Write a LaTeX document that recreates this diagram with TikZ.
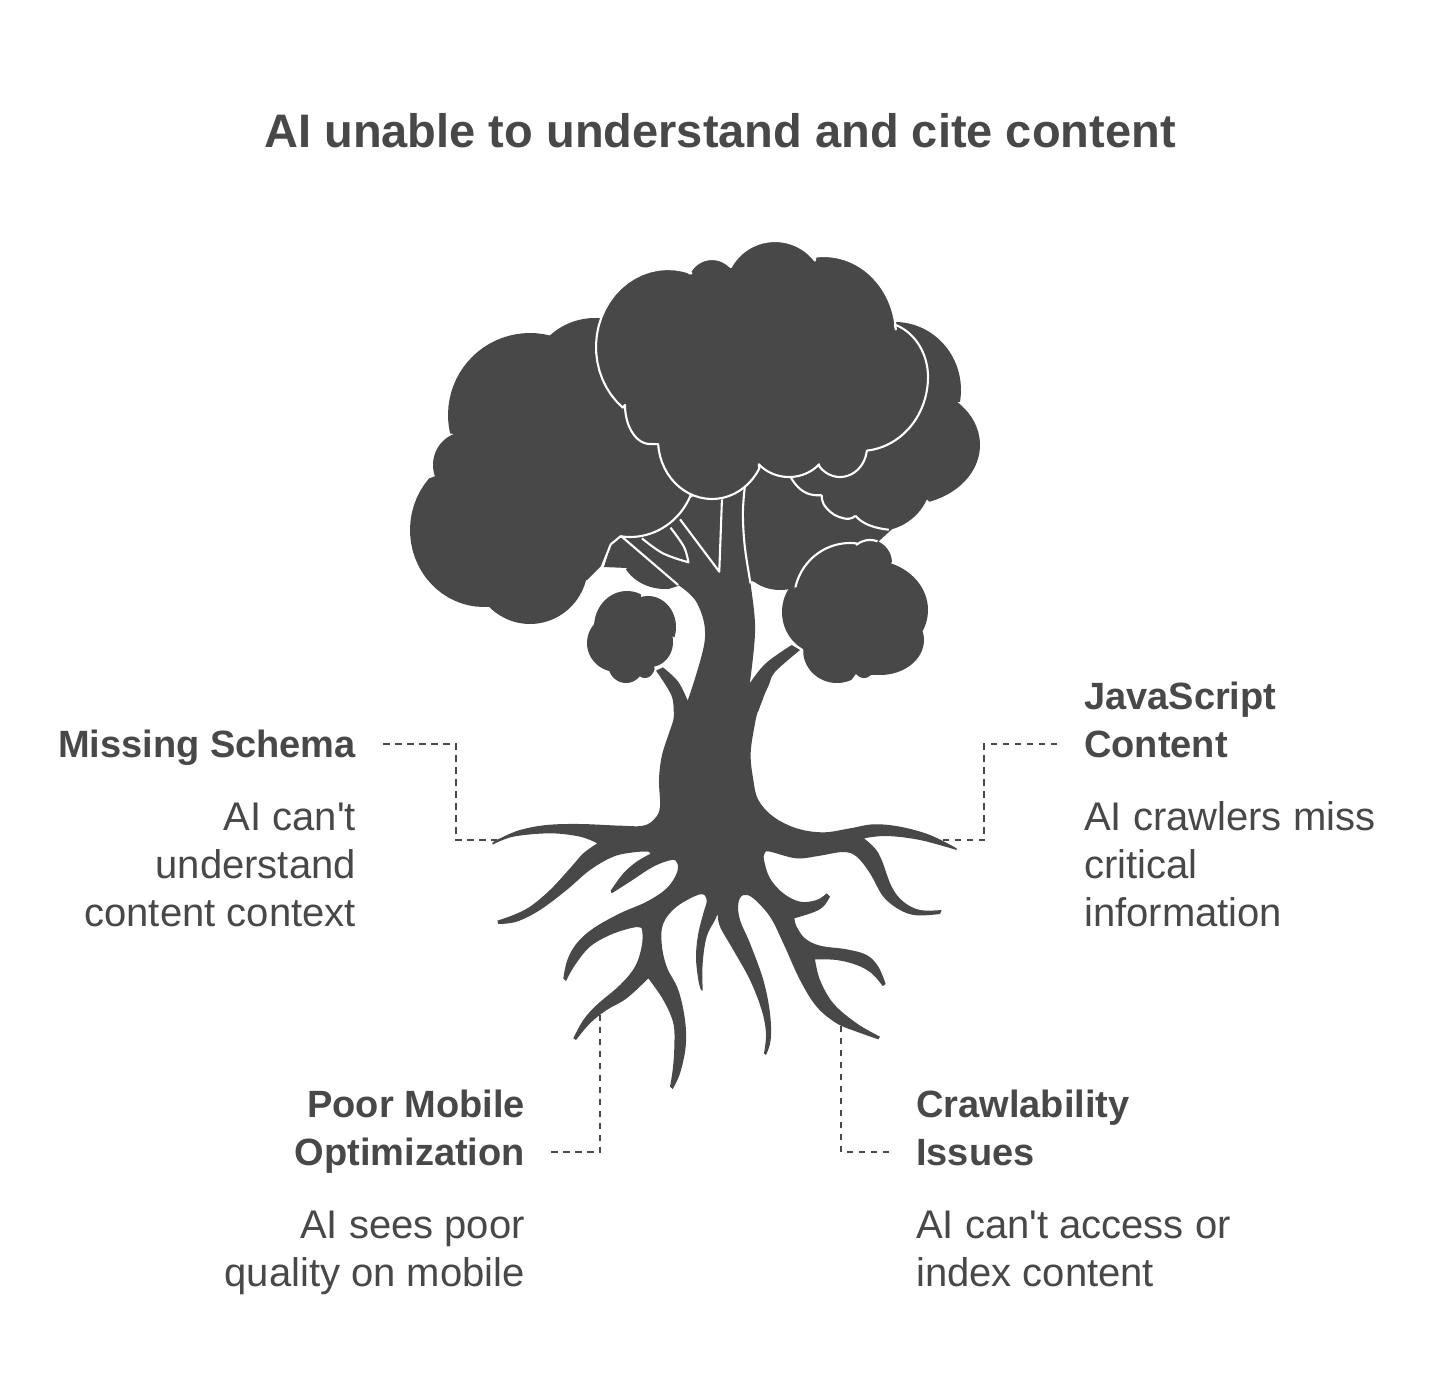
\documentclass[tikz,border=0pt]{standalone}
\usepackage{fontspec}
\newfontfamily\basefont{Liberation Sans}
\definecolor{ink}{HTML}{484848}
\newcommand{\lb}{\rule[-10pt]{0pt}{48pt}}
\tikzset{
  titletext/.style={font=\basefont\fontsize{38pt}{48pt}\selectfont\bfseries,text=ink,inner sep=0pt},
  bodytext/.style={font=\basefont\fontsize{40pt}{48pt}\selectfont,text=ink,inner sep=0pt},
  conn/.style={draw=ink,line width=1.6pt,dash pattern=on 6.5pt off 5.5pt},
  tree/.style={fill=ink},
  seam/.style={draw=white,line width=2.1pt,line join=round},
  z1/.style={shift={(400,230)},x=0.381pt,y=-0.33333pt},
  z2/.style={shift={(480,680)},x=0.33333pt,y=-0.33333pt},
  sm/.style={smooth,tension=0.6},
  rd/.style={smooth,tension=1},
  every plot/.style={samples=25}
}
\begin{document}
\begin{tikzpicture}[x=1pt,y=-1pt]
\useasboundingbox (0,0) rectangle (1440,1392);
\fill[white] (0,0) rectangle (1440,1392);

\node[titletext] (head) at (720,131) {\fontsize{47pt}{56pt}\selectfont AI unable to understand and cite content};

\node[titletext,anchor=east,align=right] (ms) at (356,743) {\lb Missing Schema};
\node[bodytext,anchor=east,align=right] (msb) at (356,864) {\lb AI can't\\\lb understand\\\lb content context};
\node[titletext,anchor=west,align=left] (js) at (1084,719) {\lb JavaScript\\\lb Content};
\node[bodytext,anchor=west,align=left] (jsb) at (1084,864) {\lb AI crawlers miss\\\lb critical\\\lb information};
\node[titletext,anchor=east,align=right] (pm) at (525,1127) {\lb Poor Mobile\\\lb Optimization};
\node[bodytext,anchor=east,align=right] (pmb) at (525,1248) {\lb AI sees poor\\\lb quality on mobile};
\node[titletext,anchor=west,align=left] (cr) at (916,1127) {\lb Crawlability\\\lb Issues};
\node[bodytext,anchor=west,align=left] (crb) at (916,1248) {\lb AI can't access or\\\lb index content};

\coordinate (msroot) at (497,840);
\coordinate (jsroot) at (943,840);
\coordinate (pmroot) at (600,1012);
\coordinate (crroot) at (841,1025);
\draw[conn] ([shift={(27pt,-1pt)}]ms.east) -- (456,744) -- (456,840) -- (msroot);
\draw[conn] ([shift={(-27pt,-25pt)}]js.west) -- (984,744) -- (984,840) -- (jsroot);
\draw[conn] ([shift={(26pt,-25pt)}]pm.east) -- (600,1152) -- (pmroot);
\draw[conn] ([shift={(-27pt,-25pt)}]cr.west) -- (841,1152) -- (crroot);

% back canopy, right and centre
\fill[tree] (800,330)
 -- plot[domain=270:370] ({895+66*cos(\x)},{390+68*sin(\x)})
 -- plot[domain=-46:71] ({905+75*cos(\x)},{445+60*sin(\x)})
 -- plot[domain=25:75] ({878+54*cos(\x)},{476+55*sin(\x)})
 -- (878,542) -- (795,587)
 -- plot[domain=55:130] ({780+40*cos(\x)},{555+35*sin(\x)})
 -- (748,580) -- (735,487) -- cycle;
% back canopy, lower left lobes
\fill[tree] (690,530) -- (621,536) -- (611,544) -- (604,567)
 -- (627,568)
 -- plot[domain=150:85] ({665+45*cos(\x)},{550+39*sin(\x)})
 -- (678,586) -- (700,560) -- cycle;
% left canopy
\fill[tree] (587,580)
 -- plot[domain=15:136] ({530+58*cos(\x)},{565+59*sin(\x)})
 -- plot[domain=85:222] ({484+74*cos(\x)},{530+77*sin(\x)})
 -- plot[domain=160:250] ({465+32*cos(\x)},{465+33*sin(\x)})
 -- plot[domain=167:284] ({530+82*cos(\x)},{415+82*sin(\x)})
 -- plot[domain=227:275] ({595+67*cos(\x)},{385+67*sin(\x)})
 -- (691,495)
 -- plot[domain=22:98] ({630+66*cos(\x)},{468+69*sin(\x)})
 -- (611,544) -- (602,565) -- cycle;
% small left canopy
\fill[tree] (594,627)
 -- plot[domain=180:295] ({627+33*cos(\x)},{627+36*sin(\x)})
 -- plot[domain=255:380] ({648+28*cos(\x)},{627+31*sin(\x)})
 -- plot[domain=-14:81] ({650+23*cos(\x)},{642+25*sin(\x)})
 -- plot[domain=15:130] ({645+10*cos(\x)},{665+13*sin(\x)})
 -- plot[domain=35:160] ({626+18*cos(\x)},{664+19*sin(\x)})
 -- plot[domain=103:225] ({617+30*cos(\x)},{643+29*sin(\x)})
 -- cycle;
% small right canopy
\fill[tree] (795,589)
 -- plot[domain=193:277] ({850+56*cos(\x)},{600+57*sin(\x)})
 -- plot[domain=233:357] ({870+22*cos(\x)},{563+23*sin(\x)})
 -- plot[domain=-69:27] ({870+58*cos(\x)},{610+50*sin(\x)})
 -- plot[domain=-15:95] ({880+44*cos(\x)},{640+35*sin(\x)})
 -- plot[domain=60:125] ({864+14*cos(\x)},{655+23*sin(\x)})
 -- plot[domain=65:170] ({837+34*cos(\x)},{650+33*sin(\x)})
 -- plot[domain=118:222] ({822+40*cos(\x)},{612+42*sin(\x)})
 -- cycle;
% seams of the small right canopy
\draw[seam] plot[domain=193:277] ({850+56*cos(\x)},{600+57*sin(\x)})
 -- plot[domain=233:290] ({870+22*cos(\x)},{563+23*sin(\x)});

\begin{scope}[z1]
% upper trunk and its side branches
\fill[tree] (580,918) -- (730,1065)
 -- plot[sm] coordinates {(730,1065) (780,1120) (800,1230) (755,1412)}
 -- plot[sm] coordinates {(755,1412) (730,1355) (690,1312)}
 -- (672,1322)
 -- plot[sm] coordinates {(672,1322) (712,1395) (718,1445)}
 -- (940,1445)
 -- plot[sm] coordinates {(940,1445) (953,1404) (968,1365) (985,1325) (1050,1260)}
 -- (1028,1245)
 -- plot[sm] coordinates {(1028,1245) (960,1300) (918,1360)}
 -- plot[sm] coordinates {(918,1360) (932,1200) (920,1060) (905,950) (900,850) (905,770)}
 -- (800,780) -- cycle;
% seams on the canopy
\draw[seam] plot[rd] coordinates {(1025,740) (1060,785) (1107,795)};
\draw[seam] plot[rd] coordinates {(1107,795) (1120,835) (1165,865) (1195,857)};
\draw[seam] plot[rd] coordinates {(1195,857) (1230,885) (1283,899)};
\draw[seam] plot[sm] coordinates {(530,1010) (553,943)};
\draw[seam] (553,943) -- (580,918);
\draw[seam] (845,808) -- (838,1025) -- (735,868);
\draw[seam] plot[sm] coordinates {(710,893) (745,950) (757,997)} -- plot[sm] coordinates {(757,997) (690,970) (635,925)};
\draw[seam] (580,918) -- (730,1065);
\draw[seam] plot[sm] coordinates {(905,770) (900,850) (905,950) (920,1060)};
\end{scope}
\draw[seam] plot[domain=22:98] ({630+66*cos(\x)},{468+69*sin(\x)});

% main canopy
\filldraw[tree,seam] (625,405)
 -- plot[domain=129:289] ({668+72*cos(\x)},{347+78*sin(\x)})
 -- plot[domain=205:310] ({712+25*cos(\x)},{284+25*sin(\x)})
 -- plot[domain=208:323] ({775+50*cos(\x)},{290+49*sin(\x)})
 -- plot[domain=263:356] ({824+72*cos(\x)},{335+79*sin(\x)})
 -- plot[domain=288:360] ({880+48*cos(\x)},{377+55*sin(\x)})
 -- plot[domain=0:84] ({860+68*cos(\x)},{377+74*sin(\x)})
 -- plot[domain=8:141] ({840+27*cos(\x)},{447+30*sin(\x)})
 -- plot[domain=41:139] ({789+40*cos(\x)},{440+37*sin(\x)})
 -- plot[domain=29:176] ({712+54*cos(\x)},{440+59*sin(\x)})
 -- plot[domain=90:180] ({650+25*cos(\x)},{405+39*sin(\x)})
 -- cycle;

% lower trunk and roots
\begin{scope}[z2]
\fill[tree] (582,85)
 -- plot[sm] coordinates {(582,85) (580,120) (565,165) (545,230) (537,300) (540,380) (525,415) (490,437) (420,437) (300,432) (200,435) (120,450) (60,475) (37,488)}
 -- (38,494)
 -- plot[sm] coordinates {(38,494) (100,470) (210,460) (300,470) (352,490)}
 -- plot[sm] coordinates {(352,490) (310,520) (270,565) (210,630) (150,680) (100,705) (52,722)}
 -- (55,732)
 -- plot[sm] coordinates {(55,732) (110,725) (180,690) (260,630) (330,570) (400,530) (460,517) (505,515) (510,522)}
 -- plot[sm] coordinates {(510,522) (470,545) (430,580) (392,632)}
 -- (395,640)
 -- plot[sm] coordinates {(395,640) (450,605) (520,560) (575,540) (592,550) (590,580) (560,625) (500,665) (420,700) (340,745) (290,790) (262,840) (250,895)}
 -- (258,903)
 -- plot[sm] coordinates {(258,903) (285,855) (330,800) (390,765) (450,745) (480,742) (487,755) (485,800) (465,860) (420,915) (350,975) (310,1020) (280,1075)}
 -- (288,1080)
 -- plot[sm] coordinates {(288,1080) (330,1030) (380,990) (440,955) (505,895)}
 -- plot[sm] coordinates {(505,895) (550,960) (580,1030) (583,1100) (578,1170) (570,1220)}
 -- (578,1227)
 -- plot[sm] coordinates {(578,1227) (600,1180) (617,1100) (615,1020) (595,930) (560,860) (545,790) (550,730) (590,680) (660,643) (680,660) (670,700) (655,760) (648,830) (655,900) (663,930)}
 -- (668,932)
 -- plot[sm] coordinates {(668,932) (668,850) (680,770) (705,720) (713,700)}
 -- plot[sm] coordinates {(713,700) (720,740) (760,810) (810,900) (845,990) (858,1060) (852,1120)}
 -- (858,1125)
 -- plot[sm] coordinates {(858,1125) (872,1080) (870,1000) (850,900) (810,790) (780,720) (775,670) (790,645) (820,655) (870,710) (910,790) (960,900) (1010,980) (1070,1030) (1130,1055) (1195,1078)}
 -- (1200,1070)
 -- plot[sm] coordinates {(1200,1070) (1130,1030) (1060,970) (1020,900) (1005,838)}
 -- plot[sm] coordinates {(1005,838) (1070,840) (1130,855) (1175,880) (1208,918)}
 -- (1217,912)
 -- plot[sm] coordinates {(1217,912) (1195,860) (1160,825) (1100,808) (1020,797) (975,775) (950,740) (943,715)}
 -- plot[sm] coordinates {(943,715) (1000,697) (1030,680) (1050,650)}
 -- (1040,640)
 -- plot[sm] coordinates {(1040,640) (1010,660) (960,665) (910,640) (870,595) (852,540) (855,518) (870,515) (950,535) (1020,527) (1090,516) (1130,530) (1170,580) (1210,650) (1260,690) (1310,706) (1380,702)}
 -- (1385,690)
 -- plot[sm] coordinates {(1385,690) (1320,690) (1270,665) (1235,620) (1205,540) (1185,505) (1152,475)}
 -- plot[sm] coordinates {(1152,475) (1220,468) (1320,480) (1430,510)}
 -- plot[sm] coordinates {(1430,505) (1350,465) (1260,440) (1180,433) (1110,445) (1030,457) (950,445) (880,410) (835,360) (820,300) (812,220) (825,130) (835,90) (850,55)}
 -- cycle;
\end{scope}
\end{tikzpicture}
\end{document}
